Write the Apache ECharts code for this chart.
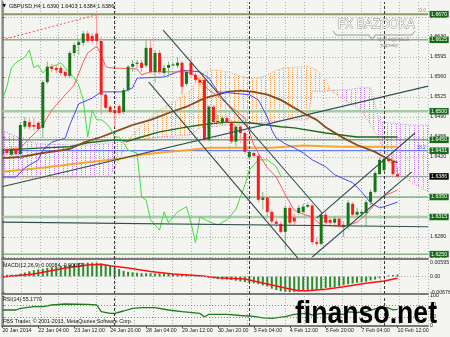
<!DOCTYPE html>
<html>
<head>
<meta charset="utf-8">
<title>GBPUSD,H4</title>
<script src="https://cdn.jsdelivr.net/npm/echarts@6.0.0/dist/echarts.min.js"></script>
<style>
html,body{margin:0;padding:0;background:#f4f5f1;overflow:hidden;}
#chart{width:450px;height:337px;}
</style>
</head>
<body>
<div id="chart"></div>
<script>
// ---------------- data ----------------
const symbolName = 'GBPUSD,H4';
const timeLabels = ['20 Jan 2014','22 Jan 04:00','23 Jan 12:00','24 Jan 20:00','28 Jan 04:00','29 Jan 12:00','30 Jan 20:00','3 Feb 04:00','4 Feb 12:00','5 Feb 20:00','7 Feb 04:00','10 Feb 12:00'];
const timeLabelIdx = [0,8,16,24,32,40,48,56,64,72,80,88];
const weekStarts = [25,55,85];

const open = [1.6425,1.6434,1.6424,1.6434,1.6425,1.6473,1.6481,1.6476,1.6480,1.6471,
1.6551,1.6578,1.6576,1.6576,1.6569,1.6562,1.6602,1.6616,1.6620,1.6636,
1.6632,1.6636,1.6623,1.6529,1.6508,1.6502,1.6509,1.6499,1.6537,1.6578,
1.6583,1.6585,1.6580,1.6611,1.6569,1.6602,1.6567,1.6576,1.6581,1.6580,
1.6585,1.6548,1.6585,1.6564,1.6555,1.6555,1.6450,1.6508,1.6481,1.6480,
1.6488,1.6481,1.6447,1.6473,1.6462,1.6420,1.6427,1.6422,1.6345,1.6349,
1.6324,1.6307,1.6303,1.6289,1.6331,1.6314,1.6322,1.6324,1.6333,1.6335,
1.6271,1.6268,1.6319,1.6310,1.6305,1.6312,1.6298,1.6300,1.6338,1.6319,
1.6321,1.6322,1.6341,1.6359,1.6390,1.6397,1.6417,1.6413,1.6390];
const close = [1.6434,1.6427,1.6434,1.6425,1.6476,1.6483,1.6473,1.6473,1.6469,1.6551,
1.6578,1.6574,1.6572,1.6567,1.6562,1.6602,1.6616,1.6621,1.6636,1.6623,
1.6623,1.6623,1.6529,1.6506,1.6499,1.6497,1.6497,1.6537,1.6578,1.6583,
1.6585,1.6576,1.6611,1.6569,1.6602,1.6569,1.6576,1.6581,1.6582,1.6585,
1.6543,1.6569,1.6564,1.6555,1.6550,1.6450,1.6508,1.6481,1.6483,1.6488,
1.6481,1.6447,1.6473,1.6462,1.6429,1.6429,1.6422,1.6345,1.6349,1.6324,
1.6307,1.6303,1.6289,1.6331,1.6305,1.6307,1.6331,1.6333,1.6336,1.6271,
1.6268,1.6319,1.6305,1.6305,1.6312,1.6300,1.6301,1.6340,1.6319,1.6324,
1.6324,1.6341,1.6359,1.6392,1.6415,1.6417,1.6413,1.6390,1.6386];
const low = [1.6420,1.6422,1.6420,1.6422,1.6415,1.6469,1.6467,1.6466,1.6466,1.6454,
1.6548,1.6569,1.6567,1.6562,1.6557,1.6558,1.6597,1.6599,1.6614,1.6620,
1.6620,1.6618,1.6494,1.6502,1.6495,1.6473,1.6494,1.6495,1.6534,1.6569,
1.6576,1.6569,1.6576,1.6565,1.6550,1.6565,1.6562,1.6560,1.6578,1.6576,
1.6529,1.6544,1.6558,1.6550,1.6544,1.6447,1.6447,1.6478,1.6478,1.6476,
1.6478,1.6443,1.6438,1.6445,1.6425,1.6415,1.6419,1.6341,1.6328,1.6317,
1.6303,1.6298,1.6286,1.6258,1.6301,1.6300,1.6319,1.6321,1.6331,1.6266,
1.6263,1.6265,1.6301,1.6301,1.6301,1.6296,1.6280,1.6294,1.6315,1.6315,
1.6314,1.6298,1.6336,1.6356,1.6389,1.6394,1.6410,1.6387,1.6384];
const high = [1.6441,1.6438,1.6440,1.6440,1.6481,1.6490,1.6487,1.6488,1.6483,1.6555,
1.6587,1.6583,1.6581,1.6580,1.6572,1.6606,1.6620,1.6625,1.6641,1.6641,
1.6637,1.6669,1.6629,1.6532,1.6511,1.6506,1.6513,1.6541,1.6581,1.6590,
1.6590,1.6590,1.6625,1.6625,1.6607,1.6607,1.6581,1.6587,1.6585,1.6594,
1.6588,1.6572,1.6594,1.6567,1.6560,1.6560,1.6511,1.6511,1.6494,1.6492,
1.6492,1.6485,1.6476,1.6476,1.6466,1.6432,1.6431,1.6427,1.6359,1.6352,
1.6328,1.6312,1.6307,1.6335,1.6336,1.6321,1.6336,1.6338,1.6340,1.6338,
1.6279,1.6322,1.6324,1.6315,1.6317,1.6317,1.6307,1.6345,1.6341,1.6331,
1.6328,1.6345,1.6363,1.6396,1.6419,1.6420,1.6420,1.6429,1.6403];

// Ichimoku lines (bar index, price)
const tenkanIdx = [0,4,9,11,14,16,18,19,21,22,23,24,30,31,33,41,43,46,48,50,52,54,56,57,59,61,63,65,67,69,71,76,79,81,83,85,88];
const tenkan = [1.6432,1.6436,1.6476,1.6502,1.6529,1.6546,1.6586,1.6602,1.6614,1.6599,1.6578,1.6576,1.6574,1.6564,1.6569,1.6569,1.6562,1.6537,1.6527,1.6513,1.6501,1.6488,1.6441,1.6427,1.6401,1.6385,1.6354,1.6327,1.6320,1.6315,1.6301,1.6298,1.6306,1.6319,1.6338,1.6352,1.6362];
const kijunIdx = [0,3,5,8,9,11,14,15,17,20,22,27,29,30,36,40,44,46,48,55,57,59,60,61,63,65,67,69,72,74,78,80,82,84,85,88];
const kijun = [1.6385,1.6385,1.6401,1.6415,1.6432,1.6446,1.6453,1.6476,1.6513,1.6523,1.6534,1.6534,1.6541,1.6558,1.6560,1.6572,1.6569,1.6558,1.6534,1.6529,1.6520,1.6490,1.6467,1.6453,1.6443,1.6436,1.6427,1.6415,1.6403,1.6389,1.6375,1.6359,1.6340,1.6331,1.6333,1.6341];
const chikouIdx = [0,1,2,3,5,6,7,8,9,10,12,13,14,16,17,18,19,20,21,22,23,24,25,26,27,28,30,31,32,33,35,36,37,39,41,42,43,44,46,48,50,52,54,55,57,59,61,62];
const chikou = [1.6520,1.6543,1.6576,1.6585,1.6595,1.6607,1.6576,1.6581,1.6567,1.6576,1.6581,1.6585,1.6576,1.6558,1.6546,1.6520,1.6455,1.6502,1.6485,1.6485,1.6480,1.6471,1.6455,1.6455,1.6445,1.6432,1.6427,1.6350,1.6345,1.6310,1.6292,1.6324,1.6305,1.6324,1.6333,1.6305,1.6270,1.6315,1.6307,1.6301,1.6310,1.6328,1.6371,1.6397,1.6415,1.6415,1.6403,1.6387];
const cloudIdx = [0,4,8,15,20,24,26,28,31,35,39,42,44,46,48,50,53,55,57,59,61,63,67,68,69,70,72,73,76,80,82,84,86,88,91,95];
const spanA = [1.6383,1.6383,1.6383,1.6383,1.6385,1.6387,1.6415,1.6450,1.6476,1.6502,1.6520,1.6537,1.6564,1.6572,1.6572,1.6569,1.6562,1.6558,1.6558,1.6564,1.6572,1.6576,1.6578,1.6578,1.6576,1.6572,1.6555,1.6537,1.6520,1.6502,1.6476,1.6450,1.6415,1.6392,1.6376,1.6359];
const spanB = [1.6467,1.6453,1.6443,1.6441,1.6441,1.6445,1.6446,1.6448,1.6450,1.6455,1.6457,1.6459,1.6471,1.6473,1.6474,1.6476,1.6476,1.6478,1.6480,1.6481,1.6483,1.6485,1.6485,1.6485,1.6535,1.6535,1.6535,1.6537,1.6537,1.6541,1.6541,1.6481,1.6480,1.6478,1.6476,1.6476];

// moving averages (bar index, price)
const maBrownIdx = [0,4,9,15,18,22,26,29,33,37,41,45,48,50,53,56,59,62,67,70,72,76,79,83,85,88];
const maBrown = [1.6418,1.6420,1.6427,1.6434,1.6445,1.6455,1.6467,1.6476,1.6485,1.6497,1.6508,1.6523,1.6529,1.6534,1.6536,1.6534,1.6529,1.6520,1.6497,1.6485,1.6472,1.6453,1.6441,1.6429,1.6420,1.6410];
const maGreenIdx = [0,9,15,19,25,28,31,35,40,44,50,55,59,62,65,72,79,88];
const maGreen = [1.6432,1.6436,1.6438,1.6445,1.6450,1.6448,1.6455,1.6464,1.6471,1.6476,1.6481,1.6480,1.6476,1.6473,1.6471,1.6462,1.6455,1.6455];
const maOrangeIdx = [0,9,18,26,31,37,41,46,60,67,75,88];
const maOrange = [1.6394,1.6401,1.6410,1.6417,1.6424,1.6429,1.6432,1.6436,1.6436,1.6440,1.6438,1.6438];

// chart objects: trend lines [idx1, price1, idx2, price2]
const trendLines = [
  [-0.1, 1.6368, 94.8, 1.6544],
  [35.8, 1.6642, 71.2, 1.6322],
  [32.6, 1.6551, 65.8, 1.6243],
  [69.0, 1.6245, 91.2, 1.6394],
  [70.0, 1.6313, 91.9, 1.6462],
  [-0.1, 1.6306, 94.8, 1.6298]
];
const fiboTrend = [-0.1, 1.6625, 21, 1.6669];
const levelPrices = [1.6670, 1.6625, 1.6500, 1.6450, 1.6350, 1.6315, 1.6250];
const fibo382 = 1.6431;
const fibo0 = 1.6670;

// price axis ticks
const priceTicks = [1.6245,1.6280,1.6315,1.6350,1.6385,1.6420,1.6455,1.6490,1.6525,1.6560,1.6595,1.6630,1.6665];

// MACD
const macdHist = [0.0006,0.0007,0.0008,0.0008,0.0012,0.0017,0.0022,0.0027,0.0030,0.0033,
0.0037,0.0040,0.0042,0.0045,0.0048,0.0051,0.0054,0.0057,0.0058,0.0059,
0.0059,0.0059,0.0055,0.0050,0.0045,0.0038,0.0032,0.0024,0.0020,0.0018,
0.0016,0.0014,0.0014,0.0014,0.0013,0.0013,0.0013,0.0012,0.0011,0.0010,
0.0010,0.0009,0.0007,0.0005,0.0002,-0.0002,-0.0005,-0.0008,-0.0011,-0.0013,
-0.0013,-0.0015,-0.0018,-0.0021,-0.0024,-0.0027,-0.0029,-0.0033,-0.0038,-0.0043,
-0.0052,-0.0058,-0.0063,-0.0066,-0.0067,-0.0066,-0.0064,-0.0062,-0.0060,-0.0059,
-0.0057,-0.0053,-0.0049,-0.0047,-0.0045,-0.0041,-0.0037,-0.0033,-0.0030,-0.0027,
-0.0024,-0.0022,-0.0017,-0.0013,-0.0008,-0.0002,0.0004,0.0006,0.00084];
const macdSigIdx = [0,7,14,19,22,24,28,33,38,44,48,54,58,63,66,68,72,76,81,85,88];
const macdSig = [-0.0002,0.0011,0.0036,0.0049,0.0052,0.0046,0.0036,0.0021,0.0011,0.0003,-0.0005,-0.0011,-0.0028,-0.0049,-0.0061,-0.0061,-0.0055,-0.0044,-0.0029,-0.0019,-0.00077];
const macdTicks = [0.00595, 0, -0.00676];

// RSI(14)
const rsiIdx = [0,3,4,7,9,11,14,19,21,22,24,25,27,29,31,34,37,40,44,45,46,50,53,56,58,60,63,65,68,69,71,73,76,77,79,81,83,84,86,87,88];
const rsi = [53.3,53.3,59,64.3,64.3,70,73.3,72,70,47.7,42.3,42.3,50,59,61,61,53.3,47.7,42,31,39,39,35,32,27,25.7,31,39,43,36,42,40,39,47,45,48,57,62,60,54,55.177];
const rsiTicks = [100, 70, 30, 0];
const rsiLevels = [70, 30];

// ---------------- chart ----------------
const FONT = '"Liberation Sans", Arial, sans-serif';
const BG = '#f4f5f1';
const GRIDC = '#a9b1b9';
const AXC = '#7a7a7a';
const FS = 5.3;
const N = open.length;
const last = N - 1;

function hatch(color) {
  const c = document.createElement('canvas');
  c.width = 9; c.height = 2;
  const g = c.getContext('2d');
  g.fillStyle = color;
  g.fillRect(0, 0, 1, 1);
  g.fillRect(4, 0, 1, 1);
  return c;
}
const hatchA = hatch('#f2a15e');
const hatchB = hatch('#c07ee8');

const XMIN = -0.09, XMAX = 94.79;
const pairs = (idx, vals) => idx.map((x, k) => [x, vals[k]]);

function barAxis(gridIndex, showLabels) {
  return {
    type: 'value', gridIndex, min: XMIN, max: XMAX, position: 'bottom',
    axisLine: { show: true, onZero: false, lineStyle: { color: AXC, width: 2 } },
    axisTick: showLabels ? { show: true, length: 2, customValues: timeLabelIdx, lineStyle: { color: '#555' } } : { show: false },
    axisLabel: showLabels ? {
      show: true, customValues: timeLabelIdx,
      formatter: v => { const k = timeLabelIdx.indexOf(Math.round(v)); return k >= 0 ? timeLabels[k] : ''; },
      align: 'left', fontSize: FS, fontFamily: FONT, color: '#1a1a1a', margin: 2
    } : { show: false },
    splitLine: { show: false }
  };
}
function gridAxis(gridIndex) {
  return {
    type: 'value', gridIndex, min: 0, max: 22.54, interval: 1, position: 'top',
    axisLine: { show: false }, axisTick: { show: false }, axisLabel: { show: false },
    splitLine: { show: true, lineStyle: { color: GRIDC, type: [1, 2], width: 1 } }
  };
}
function rightAxis(gridIndex, min, max, ticks, fmt, split) {
  return {
    type: 'value', gridIndex, min, max, position: 'right',
    axisLine: { show: true, lineStyle: { color: AXC, width: 1.5 } },
    axisTick: { show: true, length: 2, customValues: ticks, lineStyle: { color: '#555' } },
    axisLabel: { show: true, customValues: ticks, formatter: fmt, fontSize: FS, fontFamily: FONT, color: '#1a1a1a', margin: 2 },
    splitLine: { show: split, lineStyle: { color: GRIDC, type: [1, 2], width: 1 } }
  };
}

function renderCandle(params, api) {
  const i = api.value(0), o = api.value(1), c = api.value(2), l = api.value(3), h = api.value(4);
  const pO = api.coord([i, o]), pC = api.coord([i, c]), pL = api.coord([i, l]), pH = api.coord([i, h]);
  const w = api.size([1, 0])[0] * 0.66;
  const bull = c >= o;
  const top = Math.min(pO[1], pC[1]), bot = Math.max(pO[1], pC[1]);
  return {
    type: 'group', children: [
      { type: 'line', shape: { x1: pH[0], y1: pH[1], x2: pL[0], y2: pL[1] },
        style: { stroke: bull ? '#7fb87f' : '#ff8f8f', lineWidth: 1 } },
      { type: 'rect', shape: { x: pO[0] - w / 2, y: top, width: w, height: Math.max(bot - top, 1) },
        style: { fill: bull ? '#157515' : '#ff1a1a' } }
    ]
  };
}

function renderCloud(params, api) {
  const x0 = api.value(0), a0 = api.value(1), b0 = api.value(2);
  const x1 = api.value(3), a1 = api.value(4), b1 = api.value(5);
  const A0 = api.coord([x0, a0]), B0 = api.coord([x0, b0]);
  const A1 = api.coord([x1, a1]), B1 = api.coord([x1, b1]);
  const s0 = a0 - b0, s1 = a1 - b1;
  const fillFor = s => ({ image: s >= 0 ? hatchA : hatchB, repeat: 'repeat' });
  const children = [];
  if (s0 * s1 >= 0) {
    const s = s0 !== 0 ? s0 : s1;
    children.push({ type: 'polygon', shape: { points: [A0, A1, B1, B0] }, style: { fill: fillFor(s) } });
  } else {
    const t = s0 / (s0 - s1);
    const C = [A0[0] + (A1[0] - A0[0]) * t, A0[1] + (A1[1] - A0[1]) * t];
    children.push({ type: 'polygon', shape: { points: [A0, C, B0] }, style: { fill: fillFor(s0) } });
    children.push({ type: 'polygon', shape: { points: [C, A1, B1] }, style: { fill: fillFor(s1) } });
  }
  return { type: 'group', children };
}

// price boxes on the right axis: [price, style key]
const boxBg = { lvl: '#176b17', bid: '#000000' };
const priceBoxes = levelPrices.map(p => [p, 'lvl']).concat([[fibo382, 'lvl'], [close[last], 'bid']]);
function renderBox(params, api) {
  const p = api.value(0);
  const pt = api.coord([XMAX, p]);
  const kind = priceBoxes[params.dataIndex][1];
  return { type: 'text', x: pt[0] + 1.5, y: pt[1], z2: 10,
    style: { text: p.toFixed(4), fill: '#ffffff', backgroundColor: boxBg[kind], padding: [1, 1.5, 0.5, 1.5],
      fontSize: FS, fontFamily: FONT, verticalAlign: 'middle', align: 'left' } };
}
// fibo captions: [price, caption]
const fiboCaptions = [[fibo0, '0.0'], [fibo382, '38.2']];
const fiboCapColor = ['#b08a50', '#4a5ef2'];
function renderCaption(params, api) {
  const p = api.value(0);
  const pt = api.coord([XMAX, p]);
  return { type: 'text', x: pt[0] - 2, y: pt[1] - 0.5,
    style: { text: fiboCaptions[params.dataIndex][1], fill: fiboCapColor[params.dataIndex], fontSize: 4.8, fontFamily: FONT,
      verticalAlign: 'bottom', align: 'right' } };
}

const lineS = (name, data, color, width, z, type, xi, yi) => ({
  name, type: 'line', xAxisIndex: xi || 0, yAxisIndex: yi || 0, data, symbol: 'none', silent: true, z,
  lineStyle: { color, width, type: type || 'solid' }, animation: false
});

const levelStyle = [
  { color: '#8d9868', width: 2 },
  { color: '#5a8f5a', width: 1 },
  { color: '#a6cba6', width: 2.5 },
  { color: '#3f7f3f', width: 1 },
  { color: '#5a8f5a', width: 1 },
  { color: '#a6cba6', width: 2.5 },
  { color: '#5a8f5a', width: 1 }
];
const sepMark = {
  silent: true, symbol: ['none', 'none'], animation: false, label: { show: false },
  lineStyle: { color: '#3c3c3c', type: [3, 2], width: 1 },
  data: weekStarts.map(v => ({ xAxis: v }))
};

const series = [
  { type: 'custom', name: 'cloud', xAxisIndex: 0, yAxisIndex: 0, clip: true, silent: true, z: 1,
    renderItem: renderCloud, encode: { x: [0, 3], y: [1, 2, 4, 5] },
    data: cloudIdx.slice(0, -1).map((x, k) => [x, spanA[k], spanB[k], cloudIdx[k + 1], spanA[k + 1], spanB[k + 1]]),
    animation: false, markLine: sepMark },
  lineS('Senkou A', pairs(cloudIdx, spanA), '#f2a15e', 1, 2, [1, 1.5]),
  lineS('Senkou B', pairs(cloudIdx, spanB), '#c07ee8', 1, 2, [1, 1.5]),
  ...levelPrices.map((p, k) => lineS('level' + k, [[XMIN, p], [XMAX, p]], levelStyle[k].color, levelStyle[k].width, 3)),
  lineS('fibo 38.2', [[XMIN, fibo382], [XMAX, fibo382]], '#4a5ef2', 1, 3),
  lineS('bid', [[XMIN, close[last]], [XMAX, close[last]]], '#9a9a9a', 1, 3),
  lineS('MA orange', pairs(maOrangeIdx, maOrange), '#f5a734', 2, 3),
  lineS('MA green', pairs(maGreenIdx, maGreen), '#1d6b1d', 1.4, 3),
  lineS('MA brown', pairs(maBrownIdx, maBrown), '#8b4a1e', 1.8, 3),
  lineS('Chikou', pairs(chikouIdx, chikou), '#3fe03f', 1, 4),
  lineS('Kijun', pairs(kijunIdx, kijun), '#4848ff', 1, 4),
  lineS('Tenkan', pairs(tenkanIdx, tenkan), '#ff5a5a', 1, 4),
  { type: 'custom', name: symbolName, xAxisIndex: 0, yAxisIndex: 0, clip: true, silent: true, z: 5,
    renderItem: renderCandle, encode: { x: 0, y: [1, 2, 3, 4] },
    data: open.map((o, i) => [i, o, close[i], low[i], high[i]]), animation: false },
  ...trendLines.map((t, k) => lineS('trend' + k, [[t[0], t[1]], [t[2], t[3]]], '#2f4f4f', 1.1, 6)),
  lineS('fibo trend', [[fiboTrend[0], fiboTrend[1]], [fiboTrend[2], fiboTrend[3]]], '#ff5050', 1, 6, [2, 2]),
  { type: 'custom', name: 'price boxes', xAxisIndex: 0, yAxisIndex: 0, clip: false, silent: true, z: 20,
    renderItem: renderBox, encode: { y: 0 }, data: priceBoxes.map(b => [b[0]]), animation: false },
  { type: 'custom', name: 'fibo captions', xAxisIndex: 0, yAxisIndex: 0, clip: false, silent: true, z: 20,
    renderItem: renderCaption, encode: { y: 0 }, data: fiboCaptions.map(c => [c[0]]), animation: false },

  // MACD
  { type: 'bar', name: 'MACD', xAxisIndex: 2, yAxisIndex: 1, barWidth: 2, silent: true,
    itemStyle: { color: '#2b8a2b' }, data: macdHist.map((v, i) => [i, v]), animation: false, z: 2,
    markLine: sepMark },
  { type: 'line', name: 'Signal', xAxisIndex: 2, yAxisIndex: 1, symbol: 'none', silent: true, z: 3,
    lineStyle: { color: '#ff1010', width: 1.5 }, data: pairs(macdSigIdx, macdSig), animation: false,
    markLine: { silent: true, symbol: ['none', 'none'], animation: false, label: { show: false },
      lineStyle: { color: GRIDC, type: [1, 2], width: 1 }, data: [{ yAxis: 0 }] } },

  // RSI
  { type: 'line', name: 'RSI', xAxisIndex: 4, yAxisIndex: 2, symbol: 'none', silent: true, z: 3,
    lineStyle: { color: '#1f7a1f', width: 1.3 }, data: pairs(rsiIdx, rsi), animation: false,
    markLine: { silent: true, symbol: ['none', 'none'], animation: false, label: { show: false },
      lineStyle: { color: '#8a8a8a', type: [1, 2], width: 1 }, data: rsiLevels.map(v => ({ yAxis: v })) } },
  { type: 'line', name: 'sep2', xAxisIndex: 4, yAxisIndex: 2, data: [[XMIN, -10]], symbol: 'none', silent: true, markLine: sepMark }
];

// watermark sizing
const wmFont = '"Liberation Sans Narrow", "Liberation Sans", Arial, sans-serif';
const mc = document.createElement('canvas').getContext('2d');
mc.font = 'bold 32px ' + wmFont;
const wmScale = 142 / mc.measureText('finanso.net').width;

const option = {
  backgroundColor: BG,
  animation: false,
  grid: [
    { left: 2, right: 22, top: 2, height: 257, containLabel: false, outerBoundsMode: 'none' },
    { left: 2, right: 22, top: 261, height: 33, containLabel: false, outerBoundsMode: 'none' },
    { left: 2, right: 22, top: 296, height: 30, containLabel: false, outerBoundsMode: 'none' }
  ],
  xAxis: [barAxis(0, false), gridAxis(0), barAxis(1, false), gridAxis(1), barAxis(2, true), gridAxis(2)],
  yAxis: [
    rightAxis(0, 1.62415, 1.669125, priceTicks, v => v.toFixed(4), true),
    rightAxis(1, -0.00749, 0.00663, macdTicks, v => (v === 0 ? '0.00' : String(v)), false),
    rightAxis(2, 0, 100, rsiTicks, v => String(v), false)
  ],
  series,
  graphic: [
    { type: 'line', z: 100, silent: true, shape: { x1: 2, y1: 0, x2: 2, y2: 326 }, style: { stroke: AXC, lineWidth: 1 } },
    { type: 'text', z: 100, silent: true, x: 2.5, y: 6, style: { text: '\u25BC', fontSize: 4.5, fontFamily: 'DejaVu Sans', fill: '#000', verticalAlign: 'middle' } },
    { type: 'text', z: 100, silent: true, x: 9, y: 6, style: {
      text: symbolName + ' ' + [open[last], high[last], low[last], close[last]].map(v => v.toFixed(4)).join(' '),
      fontSize: 5.5, fontFamily: FONT, fill: '#111', verticalAlign: 'middle' } },
    { type: 'text', z: 100, silent: true, x: 3, y: 266, style: {
      text: 'MACD(12,26,9) ' + macdHist[last].toFixed(5) + ' ' + macdSig[macdSig.length - 1].toFixed(5),
      fontSize: 5.3, fontFamily: FONT, fill: '#111', verticalAlign: 'middle' } },
    { type: 'text', z: 100, silent: true, x: 3, y: 299.5, style: {
      text: 'RSI(14) ' + rsi[rsi.length - 1].toFixed(4), fontSize: 5.3, fontFamily: FONT, fill: '#111', verticalAlign: 'middle' } },
    { type: 'text', z: 100, silent: true, x: 3, y: 322, style: {
      text: 'FBS Trader, \u00A9 2001-2013, MetaQuotes Software Corp.', fontSize: 5.3, fontFamily: FONT, fill: '#111', verticalAlign: 'middle' } },
    { type: 'text', z: 100, silent: true, x: 338, y: 25, style: {
      text: 'FX BAZOOKA', fontSize: 12, fontFamily: FONT, fill: '#ffffff', stroke: '#9a9a9a', lineWidth: 1, verticalAlign: 'middle' } },
    { type: 'polyline', z: 100, silent: true, shape: { points: [[333, 31], [336, 35], [369, 35], [372, 40], [375, 35], [412, 35], [415, 31]] },
      style: { stroke: '#9a9a9a', lineWidth: 1, fill: null } },
    { type: 'text', z: 100, silent: true, x: 377, y: 40, style: { text: 'твой надёжный', fontSize: 4.5, fontFamily: FONT, fill: '#8a8a8a', verticalAlign: 'middle' } },
    { type: 'text', z: 100, silent: true, x: 381, y: 45.5, style: { text: 'партнёр', fontSize: 4.5, fontFamily: FONT, fill: '#8a8a8a', verticalAlign: 'middle' } },
    { type: 'text', z: 100, silent: true, x: 295, y: 314.5, scaleX: wmScale, style: {
      text: 'finanso.net', fontSize: 32, fontWeight: 'bold', fontFamily: wmFont, fill: '#000', verticalAlign: 'middle' } }
  ]
};

const chart = echarts.init(document.getElementById('chart'), null, { renderer: 'canvas', width: 450, height: 337 });
chart.setOption(option);
</script>
</body>
</html>
